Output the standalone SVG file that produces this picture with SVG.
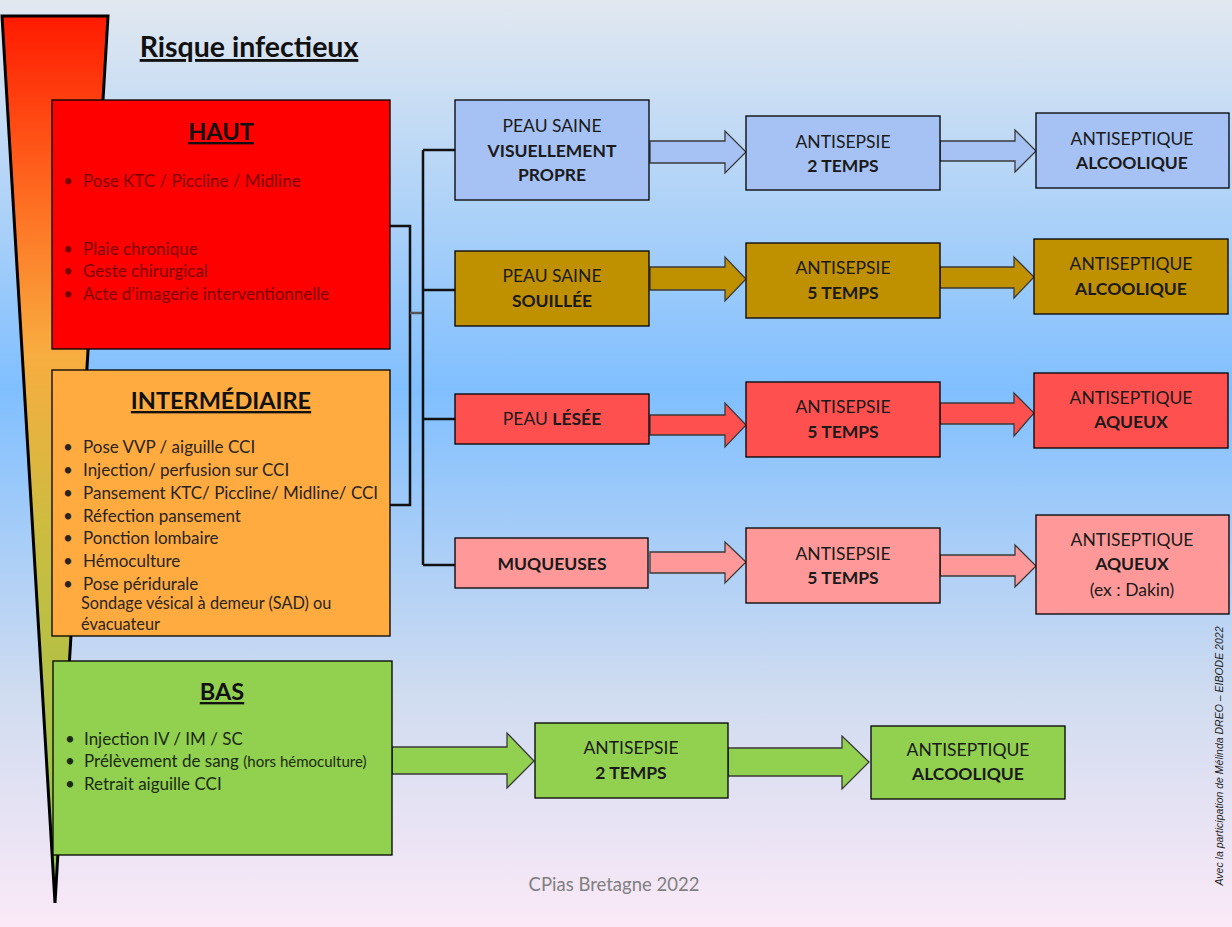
<svg xmlns="http://www.w3.org/2000/svg" width="1232" height="927" viewBox="0 0 1232 927">
<defs>
<linearGradient id="bg" x1="0" y1="0" x2="0" y2="1">
<stop offset="0" stop-color="#e2e8f0"/>
<stop offset="0.42" stop-color="#80bfff"/>
<stop offset="0.75" stop-color="#d0dcf0"/>
<stop offset="1" stop-color="#fbe9f7"/>
</linearGradient>
<linearGradient id="wedge" x1="0" y1="0" x2="0" y2="1">
<stop offset="0" stop-color="#ff1a00"/>
<stop offset="0.2" stop-color="#ff6a20"/>
<stop offset="0.38" stop-color="#f8ad40"/>
<stop offset="0.6" stop-color="#c8bd40"/>
<stop offset="1" stop-color="#8fc850"/>
</linearGradient>
<style>
.t{font-family:Lato,"Liberation Sans",sans-serif;}
.box{stroke:#000;stroke-width:1.3;}
.arr{stroke:#3a3a3a;stroke-width:1.3;stroke-linejoin:miter;}
.blue{fill:#a6c2f4;}
.gold{fill:#bf9000;}
.red{fill:#ff5050;}
.pink{fill:#ff9999;}
.green{fill:#92d050;}
.lbl{font-family:Lato,"Liberation Sans",sans-serif;font-size:17.5px;fill:#1a1a1a;text-anchor:middle;}
.b{font-weight:bold;}
.head{font-family:Lato,"Liberation Sans",sans-serif;font-size:23.5px;font-weight:bold;text-anchor:middle;text-decoration:underline;fill:#111;}
.item{font-family:Lato,"Liberation Sans",sans-serif;font-size:17px;}
.conn{fill:none;stroke:#111;stroke-width:2.5;}
</style>
</defs>
<rect x="0" y="0" width="1232" height="927" fill="url(#bg)"/>
<g id="scale">
<polygon points="2,16 108,16 55,903" fill="url(#wedge)" stroke="#000" stroke-width="3" stroke-linejoin="miter"/>
</g>
<g id="title">
<text x="249" y="57" class="t" font-size="28.5" font-weight="bold" text-anchor="middle" text-decoration="underline" fill="#111">Risque infectieux</text>
</g>
<g id="connectors">
<polyline class="conn" points="390,226 410,226 410,505 390,505"/>
<line x1="410" y1="313" x2="423" y2="313" stroke="#555" stroke-width="2.5"/>
<line class="conn" x1="423" y1="150" x2="423" y2="565"/>
<line class="conn" x1="423" y1="150" x2="455" y2="150"/>
<line class="conn" x1="423" y1="290" x2="455" y2="290"/>
<line class="conn" x1="423" y1="419" x2="455" y2="419"/>
<line class="conn" x1="423" y1="565" x2="455" y2="565"/>
<path class="arr blue" d="M650,141 L725,141 L725,131 L746,152 L725,173 L725,163 L650,163 Z"/>
<path class="arr blue" d="M940,141 L1015,141 L1015,130 L1036,151 L1015,172 L1015,161 L940,161 Z"/>
<path class="arr gold" d="M650,267 L725,267 L725,257 L746,279 L725,301 L725,290 L650,290 Z"/>
<path class="arr gold" d="M940,267 L1014,267 L1014,257 L1034,277 L1014,298 L1014,288 L940,288 Z"/>
<path class="arr red" d="M650,415 L725,415 L725,403 L746,425 L725,447 L725,435 L650,435 Z"/>
<path class="arr red" d="M940,403 L1014,403 L1014,393 L1034,413 L1014,436 L1014,424 L940,424 Z"/>
<path class="arr pink" d="M650,552 L725,552 L725,542 L746,562 L725,583 L725,573 L650,573 Z"/>
<path class="arr pink" d="M940,555 L1015,555 L1015,545 L1036,566 L1015,587 L1015,576 L940,576 Z"/>
<path class="arr green" d="M392,747 L507,747 L507,733 L534,761 L507,788 L507,774 L392,774 Z"/>
<path class="arr green" d="M728,748 L842,748 L842,736 L869,762 L842,789 L842,776 L728,776 Z"/>
</g>
<g id="haut">
<rect class="box" x="52" y="100" width="338" height="249" fill="#ff0000"/>
<text x="221" y="140" class="head">HAUT</text>
<g class="item" fill="#7a0000">
<text x="63" y="187">•</text><text x="83" y="187">Pose KTC /  Piccline / Midline</text>
<text x="63" y="255">•</text><text x="83" y="255">Plaie chronique</text>
<text x="63" y="277">•</text><text x="83" y="277">Geste chirurgical</text>
<text x="63" y="300">•</text><text x="83" y="300">Acte d’imagerie interventionnelle</text>
</g>
</g>
<g id="intermediaire">
<rect class="box" x="52" y="370" width="338" height="266" fill="#ffab40"/>
<text x="221" y="409" class="head">INTERMÉDIAIRE</text>
<g class="item" fill="#2a2420">
<text x="63" y="453">•</text><text x="83" y="453">Pose VVP / aiguille CCI</text>
<text x="63" y="476">•</text><text x="83" y="476">Injection/ perfusion sur CCI</text>
<text x="63" y="499">•</text><text x="83" y="499">Pansement KTC/ Piccline/ Midline/ CCI</text>
<text x="63" y="522">•</text><text x="83" y="522">Réfection pansement</text>
<text x="63" y="544">•</text><text x="83" y="544">Ponction lombaire</text>
<text x="63" y="567">•</text><text x="83" y="567">Hémoculture</text>
<text x="63" y="590">•</text><text x="83" y="590">Pose péridurale</text>
<text x="81" y="609" font-size="16.3">Sondage vésical à demeur (SAD) ou</text>
<text x="81" y="630" font-size="16.3">évacuateur</text>
</g>
</g>
<g id="bas">
<rect class="box" x="53" y="661" width="339" height="194" fill="#92d050"/>
<text x="222" y="700" class="head">BAS</text>
<g class="item" fill="#1a2a10">
<text x="65" y="745">•</text><text x="84" y="745">Injection IV / IM / SC</text>
<text x="65" y="767">•</text><text x="84" y="767">Prélèvement de sang <tspan font-size="15">(hors hémoculture)</tspan></text>
<text x="65" y="790">•</text><text x="84" y="790">Retrait aiguille CCI</text>
</g>
</g>
<g id="peau-saine-propre">
<rect class="box blue" x="455" y="100" width="194" height="100"/>
<text class="lbl" x="552" y="132">PEAU SAINE</text>
<text class="lbl b" x="552" y="157">VISUELLEMENT</text>
<text class="lbl b" x="552" y="181">PROPRE</text>
</g>
<g id="peau-saine-souillee">
<rect class="box gold" x="455" y="251" width="194" height="75"/>
<text class="lbl" x="552" y="282">PEAU SAINE</text>
<text class="lbl b" x="552" y="307">SOUILLÉE</text>
</g>
<g id="peau-lesee">
<rect class="box red" x="455" y="394" width="194" height="50"/>
<text class="lbl" x="552" y="425">PEAU <tspan class="b">LÉSÉE</tspan></text>
</g>
<g id="muqueuses">
<rect class="box pink" x="455" y="538" width="193" height="50"/>
<text class="lbl b" x="552" y="570">MUQUEUSES</text>
</g>
<g id="antisepsie-1">
<rect class="box blue" x="746" y="116" width="194" height="74"/>
<text class="lbl" x="843" y="148">ANTISEPSIE</text>
<text class="lbl b" x="843" y="172">2 TEMPS</text>
</g>
<g id="antisepsie-2">
<rect class="box gold" x="746" y="243" width="194" height="75"/>
<text class="lbl" x="843" y="274">ANTISEPSIE</text>
<text class="lbl b" x="843" y="299">5 TEMPS</text>
</g>
<g id="antisepsie-3">
<rect class="box red" x="746" y="382" width="194" height="75"/>
<text class="lbl" x="843" y="413">ANTISEPSIE</text>
<text class="lbl b" x="843" y="438">5 TEMPS</text>
</g>
<g id="antisepsie-4">
<rect class="box pink" x="746" y="528" width="194" height="75"/>
<text class="lbl" x="843" y="560">ANTISEPSIE</text>
<text class="lbl b" x="843" y="584">5 TEMPS</text>
</g>
<g id="antiseptique-1">
<rect class="box blue" x="1036" y="113" width="193" height="75"/>
<text class="lbl" x="1132" y="145">ANTISEPTIQUE</text>
<text class="lbl b" x="1132" y="169">ALCOOLIQUE</text>
</g>
<g id="antiseptique-2">
<rect class="box gold" x="1034" y="239" width="194" height="75"/>
<text class="lbl" x="1131" y="270">ANTISEPTIQUE</text>
<text class="lbl b" x="1131" y="295">ALCOOLIQUE</text>
</g>
<g id="antiseptique-3">
<rect class="box red" x="1034" y="373" width="194" height="75"/>
<text class="lbl" x="1131" y="404">ANTISEPTIQUE</text>
<text class="lbl b" x="1131" y="428">AQUEUX</text>
</g>
<g id="antiseptique-4">
<rect class="box pink" x="1036" y="515" width="193" height="99"/>
<text class="lbl" x="1132" y="546">ANTISEPTIQUE</text>
<text class="lbl b" x="1132" y="570">AQUEUX</text>
<text class="lbl" x="1132" y="596">(ex : Dakin)</text>
</g>
<g id="bas-antisepsie">
<rect class="box green" x="535" y="723" width="193" height="75"/>
<text class="lbl" x="631" y="754">ANTISEPSIE</text>
<text class="lbl b" x="631" y="779">2 TEMPS</text>
</g>
<g id="bas-antiseptique">
<rect class="box green" x="871" y="726" width="194" height="73"/>
<text class="lbl" x="968" y="756">ANTISEPTIQUE</text>
<text class="lbl b" x="968" y="780">ALCOOLIQUE</text>
</g>
<g id="footer">
<text x="614" y="891" class="t" font-size="18.5" fill="#808080" text-anchor="middle">CPias Bretagne 2022</text>
<text transform="translate(1223,756) rotate(-90)" font-family="'Liberation Sans',Arial,sans-serif" font-style="italic" font-size="10.5" fill="#222" text-anchor="middle">Avec la participation de Mélinda DREO – EIBODE 2022</text>
</g>
</svg>
